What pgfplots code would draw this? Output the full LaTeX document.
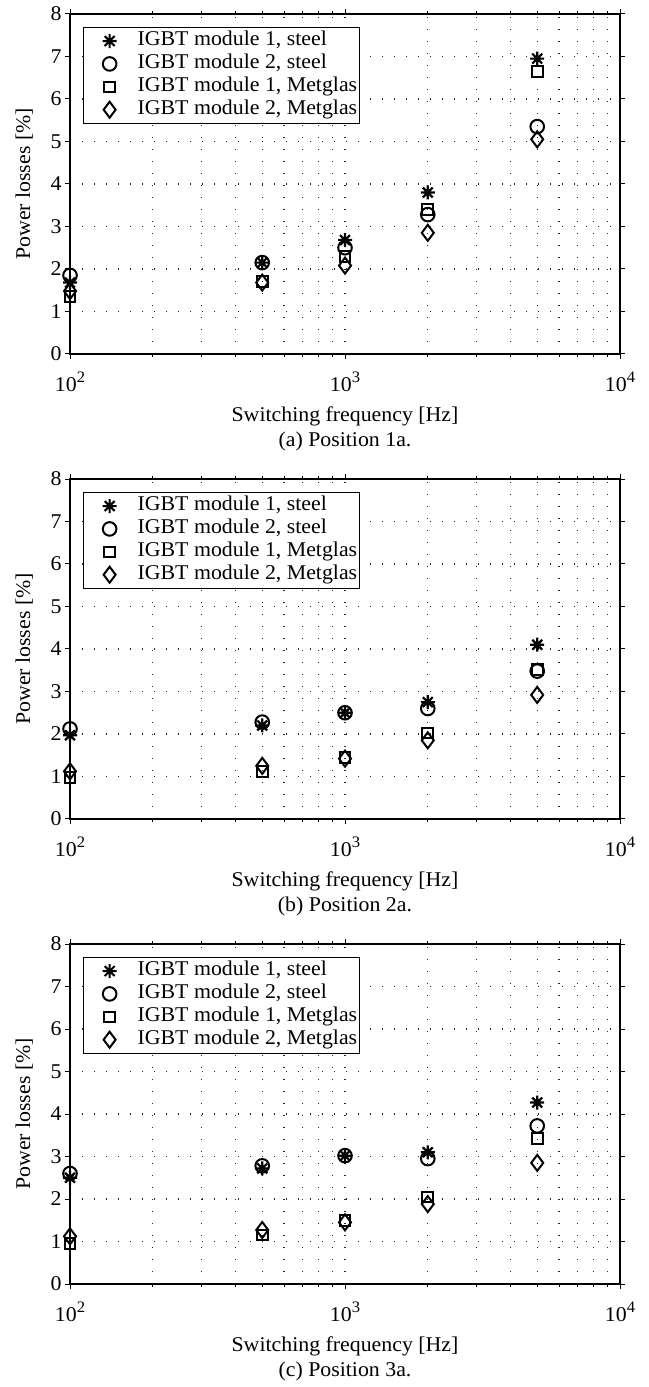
\documentclass[border=0pt]{standalone}
\usepackage{fontspec}
\setmainfont[FakeStretch=1.04]{Liberation Serif}
\usepackage{pgfplots}
\pgfplotsset{compat=1.18}

\pgfdeclareplotmark{mstar}{%
  \pgfpathmoveto{\pgfqpoint{0pt}{\pgfplotmarksize}}%
  \pgfpathlineto{\pgfqpoint{0pt}{-\pgfplotmarksize}}%
  \pgfpathmoveto{\pgfqpoint{\pgfplotmarksize}{0pt}}%
  \pgfpathlineto{\pgfqpoint{-\pgfplotmarksize}{0pt}}%
  \pgfpathmoveto{\pgfqpoint{0.707\pgfplotmarksize}{0.707\pgfplotmarksize}}%
  \pgfpathlineto{\pgfqpoint{-0.707\pgfplotmarksize}{-0.707\pgfplotmarksize}}%
  \pgfpathmoveto{\pgfqpoint{0.707\pgfplotmarksize}{-0.707\pgfplotmarksize}}%
  \pgfpathlineto{\pgfqpoint{-0.707\pgfplotmarksize}{0.707\pgfplotmarksize}}%
  \pgfusepathqstroke}

\newcommand\tenp[1]{10\raisebox{9pt}{\fontsize{16}{16}\selectfont #1}}
\newcommand\myfont{\fontsize{21}{25}\selectfont}

\pgfplotsset{
  myPanelStyle/.style={
    scale only axis, width=550pt, height=340pt,
    anchor=south west,
    xmin=100, xmax=10000, ymin=0, ymax=8,
    xtick={100,1000,10000},
    xticklabels={\tenp{2},\tenp{3},\tenp{4}},
    ytick={0,1,2,3,4,5,6,7,8},
    /pgf/number format/assume math mode=true,
    font=\myfont,
    tick label style={font=\myfont},
    tick align=outside,
    major tick length=5pt, minor tick length=3pt,
    tick style={line width=1pt, black},
    axis line style={line width=1.5pt},
    xmajorgrids, xminorgrids, ymajorgrids,
    major grid style={line width=1.3pt, black!85, dash pattern=on 1.1pt off 10.9pt},
    minor grid style={line width=1.3pt, black!85, dash pattern=on 1.1pt off 10.9pt},
    xlabel={Switching frequency [Hz]},
    ylabel={Power losses [\%]},
    xlabel style={at={(axis description cs:0.5,-0.2)}, anchor=base, inner sep=0pt},
    ylabel style={at={(axis description cs:-0.0727,0.5)}, anchor=base, inner sep=0pt},
    xticklabel style={yshift=-9pt},
    clip=false,
    legend style={at={(axis description cs:0.0236,0.962)}, anchor=north west,
      draw=black, line width=1.3pt, fill=white, inner xsep=0pt, inner ysep=2pt,
      font=\myfont, cells={anchor=west},
      nodes={text height=14.5pt, text depth=5pt, inner ysep=1.7pt, inner xsep=2pt}},
  },
  myleg/.style={legend image code/.code={%
      \path[draw=none,fill=none] (0pt,-5pt) (52pt,5pt);
      \draw[##1, line width=2pt] plot coordinates {(26pt,0pt)};}},
  s1/.style={only marks, black, line width=2.2pt, mark=mstar, mark size=7pt, myleg},
  s2/.style={only marks, black, line width=2pt, mark=o, mark size=6.8pt, myleg},
  s3/.style={only marks, black, line width=2pt, mark=square, mark size=5.3pt, myleg},
  s4/.style={only marks, black, line width=2pt, mark=diamond, mark size=8pt, myleg},
}

\begin{document}
\begin{tikzpicture}
\path[use as bounding box] (0,0) rectangle (648pt,1387pt);

% (a)
\begin{axis}[xmode=log, myPanelStyle, at={(70pt,1033pt)}]
\addplot[s1] coordinates {(100,1.68) (500,2.15) (1000,2.68) (2000,3.80) (5000,6.95)};
\addplot[s2] coordinates {(100,1.85) (500,2.15) (1000,2.50) (2000,3.28) (5000,5.35)};
\addplot[s3] coordinates {(100,1.35) (500,1.70) (1000,2.30) (2000,3.40) (5000,6.65)};
\addplot[s4] coordinates {(100,1.48) (500,1.68) (1000,2.08) (2000,2.85) (5000,5.05)};
\legend{{IGBT module 1, steel}, {IGBT module 2, steel}, {IGBT module 1, Metglas}, {IGBT module 2, Metglas}}
\node[anchor=base, inner sep=0pt, font=\myfont] at (axis description cs:0.5,-0.2735) {(a) Position 1a.};
\end{axis}

% (b)
\begin{axis}[xmode=log, myPanelStyle, at={(70pt,568pt)}]
\addplot[s1] coordinates {(100,1.97) (500,2.20) (1000,2.50) (2000,2.75) (5000,4.10)};
\addplot[s2] coordinates {(100,2.12) (500,2.28) (1000,2.50) (2000,2.60) (5000,3.48)};
\addplot[s3] coordinates {(100,0.97) (500,1.12) (1000,1.45) (2000,2.02) (5000,3.52)};
\addplot[s4] coordinates {(100,1.12) (500,1.25) (1000,1.42) (2000,1.85) (5000,2.92)};
\legend{{IGBT module 1, steel}, {IGBT module 2, steel}, {IGBT module 1, Metglas}, {IGBT module 2, Metglas}}
\node[anchor=base, inner sep=0pt, font=\myfont] at (axis description cs:0.5,-0.2735) {(b) Position 2a.};
\end{axis}

% (c)
\begin{axis}[xmode=log, myPanelStyle, at={(70pt,103pt)}]
\addplot[s1] coordinates {(100,2.50) (500,2.72) (1000,3.02) (2000,3.10) (5000,4.27)};
\addplot[s2] coordinates {(100,2.60) (500,2.78) (1000,3.02) (2000,2.95) (5000,3.72)};
\addplot[s3] coordinates {(100,0.95) (500,1.15) (1000,1.50) (2000,2.05) (5000,3.42)};
\addplot[s4] coordinates {(100,1.12) (500,1.27) (1000,1.45) (2000,1.88) (5000,2.85)};
\legend{{IGBT module 1, steel}, {IGBT module 2, steel}, {IGBT module 1, Metglas}, {IGBT module 2, Metglas}}
\node[anchor=base, inner sep=0pt, font=\myfont] at (axis description cs:0.5,-0.2735) {(c) Position 3a.};
\end{axis}
\end{tikzpicture}
\end{document}
